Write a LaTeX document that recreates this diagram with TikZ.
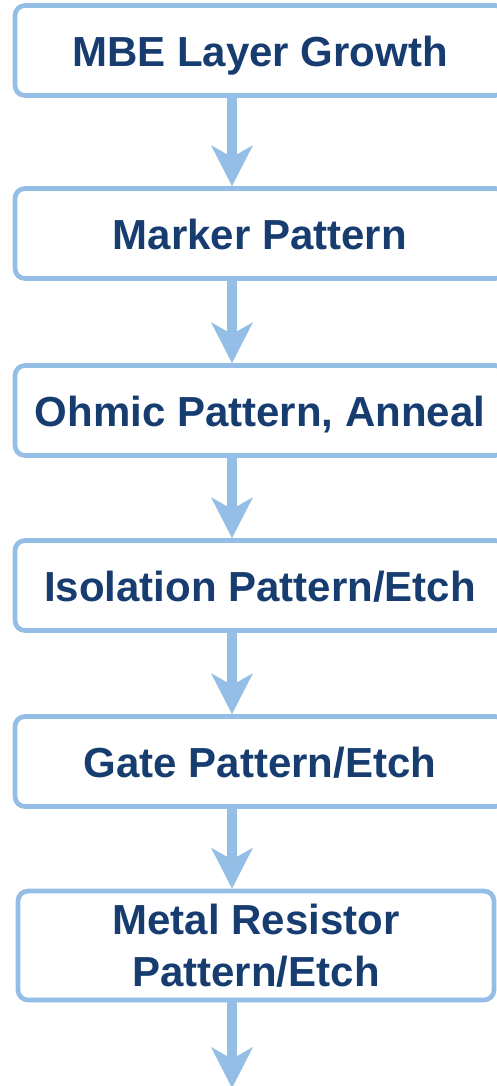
\documentclass[tikz,border=0pt]{standalone}
\usepackage{fontspec}
\setmainfont{Liberation Sans}
\usetikzlibrary{arrows.meta}
\definecolor{flowblue}{RGB}{148,190,230}
\definecolor{flowtext}{RGB}{22,60,112}
\tikzset{>=latex}
\tikzstyle{process}=[draw=flowblue,line width=4.7pt,rounded corners=10pt,fill=white,text=flowtext,font=\bfseries\fontsize{42}{52}\selectfont,inner sep=0pt]
\tikzstyle{oneline}=[process,minimum width=490pt,minimum height=90pt,text height=32pt,text depth=0pt]
\tikzstyle{flowarrow}=[draw=flowblue,line width=10pt,-{Stealth[length=41pt,width=42pt,inset=12pt,line width=0pt]}]

\begin{document}
\begin{tikzpicture}[x=1pt,y=-1pt]
	\useasboundingbox (0,0) rectangle (497,1086);
	\clip (0,0) rectangle (497,1086);
	\node (mbe) at (260,50.5) [oneline]{MBE Layer Growth};
	\node (marker) at (260,233.5) [oneline]{Marker Pattern};
	\node (ohmic) at (260,410.5) [oneline]{Ohmic Pattern, Anneal};
	\node (isolation) at (260,585.5) [oneline]{Isolation Pattern/Etch};
	\node (gate) at (260,761.5) [oneline]{Gate Pattern/Etch};
	\node (resistor) at (256,945.5) [process,minimum width=476pt,minimum height=109pt,align=center]{Metal Resistor\\Pattern/Etch};
	\coordinate (arrx) at (232,0);
	\coordinate (next) at (232,1088);
	\draw [flowarrow] (mbe.south -| arrx) -- (marker.north -| arrx);
	\draw [flowarrow] (marker.south -| arrx) -- (ohmic.north -| arrx);
	\draw [flowarrow] (ohmic.south -| arrx) -- (isolation.north -| arrx);
	\draw [flowarrow] (isolation.south -| arrx) -- (gate.north -| arrx);
	\draw [flowarrow] (gate.south -| arrx) -- (resistor.north -| arrx);
	\draw [flowarrow] (resistor.south -| arrx) -- (next);
\end{tikzpicture}
\end{document}
